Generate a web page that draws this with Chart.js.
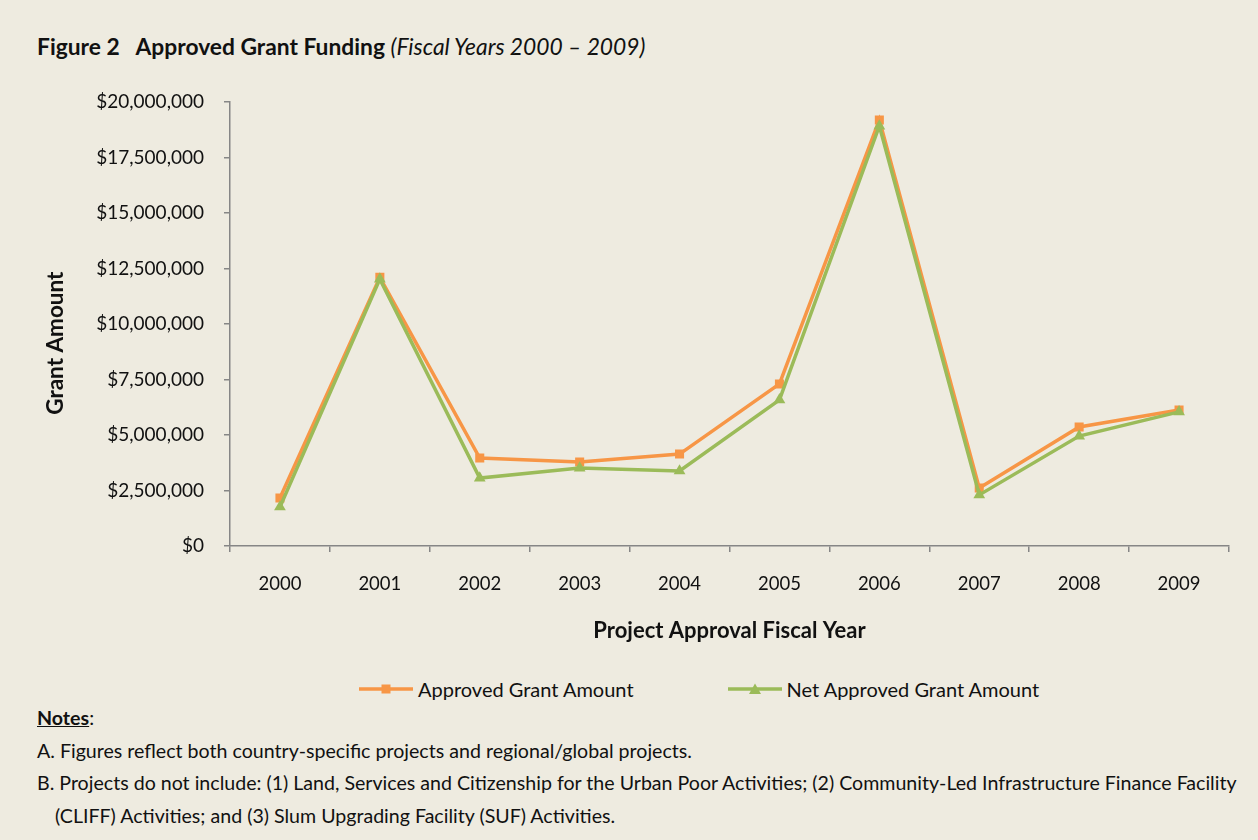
<!DOCTYPE html>
<html>
<head>
<meta charset="utf-8">
<script src="https://cdn.jsdelivr.net/npm/chart.js@4/dist/chart.umd.min.js"></script>
<style>
  html, body { margin: 0; padding: 0; }
  body { width: 1258px; height: 840px; background: #EEEBE0; position: relative; overflow: hidden; font-family: Lato, "Open Sans", sans-serif; color: #111; }
  #title { position: absolute; left: 37px; top: 32px; font-size: 22.8px; font-weight: bold; white-space: nowrap; }
  #title i { font-weight: normal; }
  #wrap { position: absolute; left: 0; top: 0; width: 1258px; height: 660px; }
  #legend { position: absolute; left: 358px; top: 676px; height: 26px; display: flex; align-items: center; font-size: 20px; white-space: nowrap; }
  #legend .item { display: flex; align-items: center; margin-right: 93px; }
  #legend canvas { margin-right: 4px; }
  #notes { position: absolute; left: 37px; top: 702px; font-size: 19.6px; line-height: 32.5px; white-space: nowrap; }
  #notes b { text-decoration: underline; }
  #notes .ind { padding-left: 18px; }
</style>
</head>
<body>
<div id="title">Figure 2&nbsp;&nbsp; Approved Grant Funding <i>(Fiscal Years 2000 – 2009)</i></div>
<div id="wrap"><canvas id="grantChart"></canvas></div>
<div id="legend"></div>
<div id="notes">
  <div><b>Notes</b>:</div>
  <div>A. Figures reflect both country-specific projects and regional/global projects.</div>
  <div>B. Projects do not include: (1) Land, Services and Citizenship for the Urban Poor Activities; (2) Community-Led Infrastructure Finance Facility</div>
  <div class="ind">(CLIFF) Activities; and (3) Slum Upgrading Facility (SUF) Activities.</div>
</div>
<script>
var years = ['2000','2001','2002','2003','2004','2005','2006','2007','2008','2009'];
var approvedAmount = [2160000, 12100000, 3960000, 3780000, 4140000, 7300000, 19190000, 2610000, 5360000, 6130000];
var netApprovedAmount = [1760000, 12020000, 3060000, 3510000, 3380000, 6580000, 18920000, 2300000, 4950000, 6040000];
var seriesNames = ['Approved Grant Amount', 'Net Approved Grant Amount'];

var orange = '#F79646';
var green = '#9BBB59';
var axisGrey = '#868686';
var fontFam = 'Lato, "Open Sans", sans-serif';

// little line+marker picture for the legend
var legendIcon = function(color, style){
  var c = document.createElement('canvas');
  c.width = 56; c.height = 14;
  var ctx = c.getContext('2d');
  ctx.strokeStyle = color;
  ctx.lineWidth = 3.5;
  ctx.beginPath();
  ctx.moveTo(1, 7);
  ctx.lineTo(55, 7);
  ctx.stroke();
  ctx.fillStyle = color;
  if(style == 'rect'){
    ctx.fillRect(23.5, 2.5, 9, 9);
  }
  else{
    ctx.beginPath();
    ctx.moveTo(28, 1.5);
    ctx.lineTo(34, 12);
    ctx.lineTo(22, 12);
    ctx.closePath();
    ctx.fill();
  }
  return c;
};

// html legend built from the chart's datasets
var htmlLegend = {
  id: 'htmlLegend',
  afterUpdate: function(chart){
    var box = document.getElementById('legend');
    box.innerHTML = '';
    chart.data.datasets.forEach(function(ds){
      var item = document.createElement('div');
      item.className = 'item';
      item.appendChild(legendIcon(ds.borderColor, ds.pointStyle));
      var txt = document.createElement('span');
      txt.textContent = ds.label;
      item.appendChild(txt);
      box.appendChild(item);
    });
  }
};

var ctx = document.getElementById('grantChart').getContext('2d');
var grantChart = new Chart(ctx, {
  type: 'line',
  data: {
    labels: years,
    datasets: [
      {
        label: seriesNames[0],
        data: approvedAmount,
        borderColor: orange,
        backgroundColor: orange,
        borderWidth: 3.5,
        pointStyle: 'rect',
        pointRadius: 6.4,
        pointBorderWidth: 0,
        tension: 0,
        order: 2
      },
      {
        label: seriesNames[1],
        data: netApprovedAmount,
        borderColor: green,
        backgroundColor: green,
        borderWidth: 3.5,
        pointStyle: 'triangle',
        pointRadius: 6.8,
        pointBorderWidth: 0,
        tension: 0,
        order: 1
      }
    ]
  },
  plugins: [htmlLegend],
  options: {
    responsive: true,
    maintainAspectRatio: false,
    animation: false,
    layout: { padding: { top: 102, right: 29, left: 0, bottom: 0 } },
    plugins: {
      tooltip: { enabled: false },
      legend: { display: false }
    },
    scales: {
      x: {
        offset: true,
        grid: { offset: true, drawOnChartArea: false, color: axisGrey, lineWidth: 1.5, tickLength: 6 },
        border: { color: axisGrey, width: 1.5 },
        ticks: { color: '#111', padding: 21, font: { family: fontFam, size: 18.5 } },
        title: { display: true, text: 'Project Approval Fiscal Year', color: '#111', font: { family: fontFam, size: 22, weight: 'bold' }, padding: { top: 0, bottom: 16 } },
        afterFit: function(scale){ scale.height = 114; }
      },
      y: {
        min: 0,
        max: 20000000,
        grid: { drawOnChartArea: false, color: axisGrey, lineWidth: 1.5, tickLength: 6 },
        border: { color: axisGrey, width: 1.5 },
        ticks: {
          stepSize: 2500000,
          color: '#111',
          padding: 20,
          font: { family: fontFam, size: 19 },
          callback: function(v){ return '$' + v.toLocaleString('en-US'); }
        },
        // trailing spaces nudge the title down the axis, like the original
        title: { display: true, text: 'Grant Amount' + '\u00a0'.repeat(7), color: '#111', font: { family: fontFam, size: 22.5, weight: 'bold' }, padding: { top: 42, bottom: 0 } },
        afterFit: function(scale){ scale.width = 230; }
      }
    }
  }
});
</script>
</body>
</html>
